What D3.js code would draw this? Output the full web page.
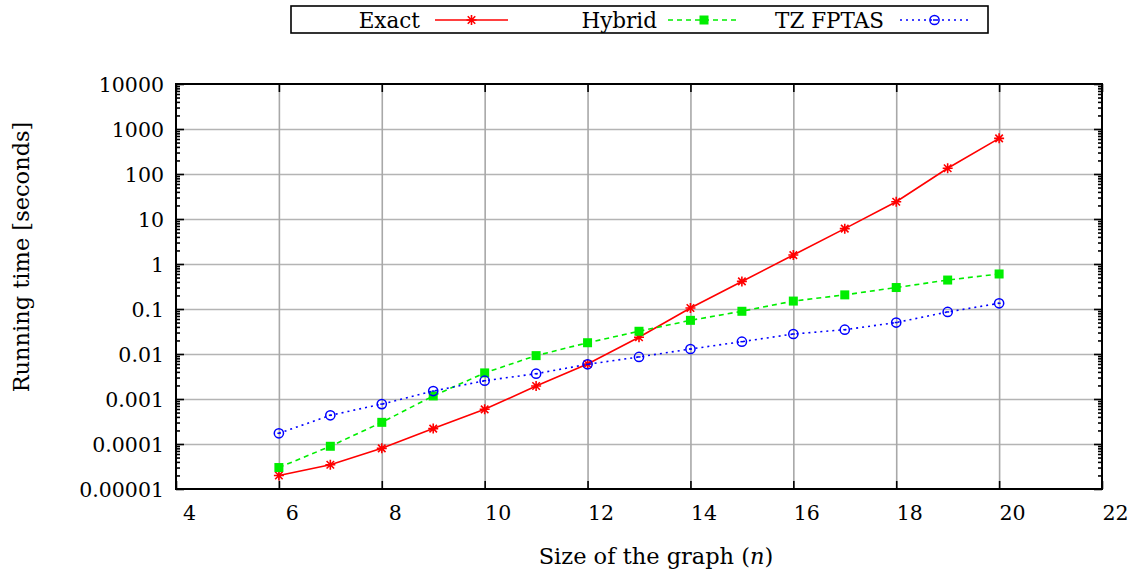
<!DOCTYPE html>
<html>
<head>
<meta charset="utf-8">
<script src="https://cdn.jsdelivr.net/npm/d3@7"></script>
<style>
  body { margin: 0; background: #fff; }
  svg text { font-family: "DejaVu Serif", serif; fill: #000; }
</style>
</head>
<body>
<div id="chart"></div>
<script>
// valeurs
const sizes = [6, 7, 8, 9, 10, 11, 12, 13, 14, 15, 16, 17, 18, 19, 20];
const exactTimes = [2.0e-5, 3.45e-5, 8.0e-5, 2.2e-4, 5.9e-4, 1.94e-3, 6.0e-3, 0.0235, 0.105, 0.41, 1.58, 6.1, 24.2, 134, 620];
const hybridTimes = [3.0e-5, 8.9e-5, 3.03e-4, 1.17e-3, 3.8e-3, 9.2e-3, 0.0178, 0.032, 0.056, 0.089, 0.15, 0.206, 0.30, 0.44, 0.60];
const tzTimes = [1.73e-4, 4.34e-4, 7.7e-4, 1.5e-3, 2.55e-3, 3.65e-3, 5.9e-3, 8.6e-3, 0.0129, 0.0188, 0.0278, 0.0347, 0.050, 0.086, 0.134];
const seriesNames = ['Exact', 'Hybrid', 'TZ FPTAS'];
const xTicks = [4, 6, 8, 10, 12, 14, 16, 18, 20, 22];
const yTicks = [1e-5, 1e-4, 1e-3, 1e-2, 1e-1, 1, 10, 100, 1000, 10000];
const yTickLabels = ['0.00001', '0.0001', '0.001', '0.01', '0.1', '1', '10', '100', '1000', '10000'];

const W = 1136, H = 572;
const plot = { left: 176, right: 1102, top: 84, bottom: 489 };

const svg = d3.select('#chart').append('svg')
    .attr('width', W)
    .attr('height', H);

const x = d3.scaleLinear().domain([4, 22]).range([plot.left, plot.right]);
const y = d3.scaleLog().domain([1e-5, 1e4]).range([plot.bottom, plot.top]);

const minors = [];
for (let e = -5; e < 4; e++) {
    for (let k = 2; k <= 9; k++) minors.push(k * Math.pow(10, e));
}

// grille
svg.append('g')
    .attr('transform', `translate(${plot.left},0)`)
    .call(d3.axisLeft(y).tickValues(yTicks.slice(1, -1)).tickSize(-(plot.right - plot.left)).tickFormat(''))
    .call(g => g.select('.domain').remove())
    .call(g => g.selectAll('line').attr('stroke', '#b4b4b4').attr('stroke-width', 1.6));

svg.append('g')
    .attr('transform', `translate(0,${plot.bottom})`)
    .call(d3.axisBottom(x).tickValues(xTicks.slice(1, -1)).tickSize(-(plot.bottom - plot.top)).tickFormat(''))
    .call(g => g.select('.domain').remove())
    .call(g => g.selectAll('line').attr('stroke', '#a8a8a8').attr('stroke-width', 1.6));

// axes
function styleAxis(g) {
    g.select('.domain').remove();
    g.selectAll('line').attr('stroke', '#000').attr('stroke-width', 1.6);
}

svg.append('g')
    .attr('transform', `translate(0,${plot.bottom})`)
    .call(d3.axisBottom(x).tickValues(xTicks).tickSize(-8).tickPadding(16).tickFormat(d3.format('d')))
    .call(styleAxis)
    .call(g => g.selectAll('text').attr('font-size', 20.5).attr('dx', 13));

svg.append('g')
    .attr('transform', `translate(0,${plot.top})`)
    .call(d3.axisTop(x).tickValues(xTicks).tickSize(-8).tickFormat(''))
    .call(styleAxis);

svg.append('g')
    .attr('transform', `translate(${plot.left},0)`)
    .call(d3.axisLeft(y).tickValues(yTicks).tickSize(-8).tickPadding(12).tickFormat((d, i) => yTickLabels[i]))
    .call(styleAxis)
    .call(g => g.selectAll('text').attr('font-size', 20.5).attr('dy', '0.38em'));

svg.append('g')
    .attr('transform', `translate(${plot.left},0)`)
    .call(d3.axisLeft(y).tickValues(minors).tickSize(-4).tickFormat(''))
    .call(styleAxis);

svg.append('g')
    .attr('transform', `translate(${plot.right},0)`)
    .call(d3.axisRight(y).tickValues(yTicks).tickSize(-8).tickFormat(''))
    .call(styleAxis);

svg.append('g')
    .attr('transform', `translate(${plot.right},0)`)
    .call(d3.axisRight(y).tickValues(minors).tickSize(-4).tickFormat(''))
    .call(styleAxis);

svg.append('rect')
    .attr('x', plot.left).attr('y', plot.top)
    .attr('width', plot.right - plot.left).attr('height', plot.bottom - plot.top)
    .attr('fill', 'none').attr('stroke', '#000').attr('stroke-width', 2);

// courbes
const series = [
    { name: seriesNames[0], values: exactTimes, color: '#ff0000', dash: null, marker: 'star' },
    { name: seriesNames[1], values: hybridTimes, color: '#00ee00', dash: '5,4', marker: 'square' },
    { name: seriesNames[2], values: tzTimes, color: '#0000ff', dash: '2,4', marker: 'circle' }
];

const line = d3.line()
    .x((d, i) => x(sizes[i]))
    .y(d => y(d));

function drawMarker(g, type, cx, cy, color) {
    if (type === 'star') {
        const s = 5;
        g.append('path')
            .attr('d', `M${cx - s},${cy}H${cx + s}M${cx},${cy - s}V${cy + s}` +
                `M${cx - s * 0.75},${cy - s * 0.75}L${cx + s * 0.75},${cy + s * 0.75}` +
                `M${cx - s * 0.75},${cy + s * 0.75}L${cx + s * 0.75},${cy - s * 0.75}`)
            .attr('stroke', color).attr('stroke-width', 1.6).attr('fill', 'none');
    } else if (type === 'square') {
        g.append('rect')
            .attr('x', cx - 4.5).attr('y', cy - 4.5)
            .attr('width', 9).attr('height', 9)
            .attr('fill', color);
    } else {
        g.append('circle')
            .attr('cx', cx).attr('cy', cy).attr('r', 4.6)
            .attr('fill', 'none').attr('stroke', color).attr('stroke-width', 1.5);
        g.append('path')
            .attr('d', `M${cx - 1.5},${cy}H${cx + 1.5}`)
            .attr('stroke', color).attr('stroke-width', 1.5);
    }
}

series.forEach(s => {
    svg.append('path')
        .datum(s.values)
        .attr('d', line)
        .attr('fill', 'none')
        .attr('stroke', s.color)
        .attr('stroke-width', 1.6)
        .attr('stroke-dasharray', s.dash);
    const mg = svg.append('g');
    s.values.forEach((v, i) => drawMarker(mg, s.marker, x(sizes[i]), y(v), s.color));
});

// légende
svg.append('rect')
    .attr('x', 291).attr('y', 6)
    .attr('width', 697).attr('height', 27)
    .attr('fill', '#fff').attr('stroke', '#000').attr('stroke-width', 1.6);

const legendPos = [
    { textEnd: 420, x1: 435, x2: 508 },
    { textEnd: 657, x1: 668, x2: 740 },
    { textEnd: 884, x1: 900, x2: 969 }
];

series.forEach((s, i) => {
    const p = legendPos[i];
    svg.append('text')
        .attr('x', p.textEnd).attr('y', 20)
        .attr('dy', '0.36em')
        .attr('text-anchor', 'end')
        .attr('font-size', 21.5)
        .text(s.name);
    svg.append('line')
        .attr('x1', p.x1).attr('x2', p.x2)
        .attr('y1', 20).attr('y2', 20)
        .attr('stroke', s.color).attr('stroke-width', 1.6)
        .attr('stroke-dasharray', s.dash);
    drawMarker(svg, s.marker, (p.x1 + p.x2) / 2, 20, s.color);
});

// titres des axes
svg.append('text')
    .attr('transform', 'translate(29,257) rotate(-90)')
    .attr('text-anchor', 'middle')
    .attr('font-size', 22.5)
    .text('Running time [seconds]');

const xl = svg.append('text')
    .attr('x', 656).attr('y', 564)
    .attr('text-anchor', 'middle')
    .attr('font-size', 22.5);
xl.append('tspan').text('Size of the graph (');
xl.append('tspan').attr('font-style', 'italic').text('n');
xl.append('tspan').text(')');
</script>
</body>
</html>
